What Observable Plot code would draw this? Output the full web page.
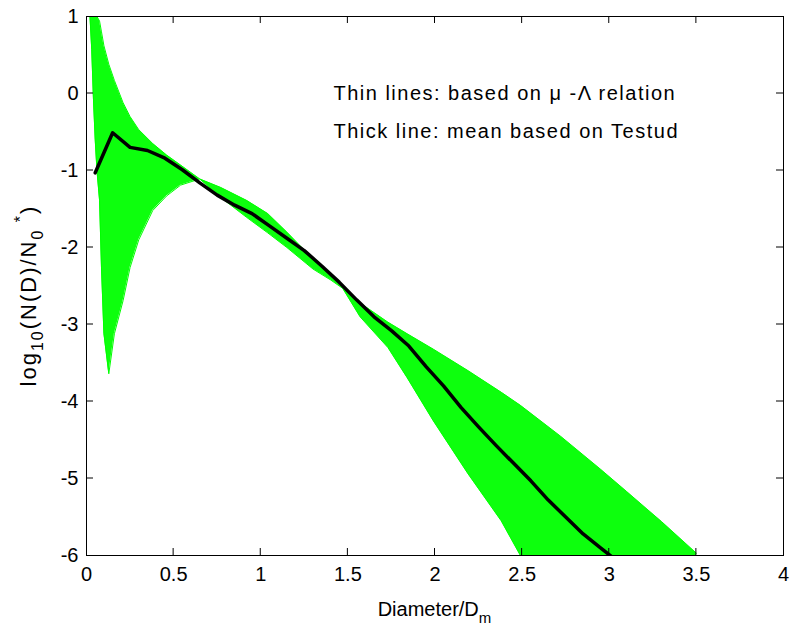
<!DOCTYPE html>
<html><head><meta charset="utf-8">
<script src="https://cdn.jsdelivr.net/npm/d3@7"></script>
<script src="https://cdn.jsdelivr.net/npm/@observablehq/plot@0.6"></script>
<style>body{margin:0;background:#fff;} .note text{letter-spacing:1.5px;}</style>
</head><body><div id="chart"></div>
<script>
// Outline of the family of thin lines (mu-Lambda relation)
const fanX =     [0.02, 0.03, 0.04, 0.05, 0.06, 0.075, 0.086, 0.10, 0.128, 0.16, 0.21, 0.25, 0.30, 0.38, 0.46, 0.54, 0.65, 0.77, 0.92, 1.04, 1.15, 1.30, 1.40, 1.47, 1.57, 1.73, 1.84, 1.99, 2.19, 2.38, 2.49, 2.72, 2.95, 3.10, 3.30, 3.50];
const fanLower = [1.0, 0.57, -0.08, -0.6, -1.0, -1.39, -2.26, -3.12, -3.64, -3.12, -2.69, -2.26, -1.9, -1.52, -1.33, -1.19, -1.11, -1.22, -1.39, -1.56, -1.80, -2.15, -2.36, -2.53, -2.9, -3.30, -3.69, -4.25, -4.94, -5.55, -6.0, -6, -6, -6, -6, -6];
const fanUpper = [1, 1, 1, 1, 1, 0.94, 0.8, 0.62, 0.38, 0.17, -0.12, -0.3, -0.47, -0.65, -0.80, -0.93, -1.11, -1.35, -1.61, -1.81, -2.0, -2.28, -2.42, -2.53, -2.72, -2.97, -3.12, -3.32, -3.60, -3.88, -4.05, -4.45, -4.88, -5.17, -5.56, -5.97];
// Thick line: mean based on Testud
const meanX = [0.05,0.15,0.25,0.35,0.45,0.55,0.65,0.75,0.85,0.95,1.05,1.15,1.25,1.35,1.45,1.55,1.65,1.75,1.85,1.95,2.05,2.15,2.25,2.35,2.45,2.55,2.65,2.75,2.85,2.95,3.05];
const meanY = [-1.03,-0.51,-0.70,-0.74,-0.84,-0.99,-1.16,-1.32,-1.45,-1.56,-1.72,-1.88,-2.04,-2.24,-2.45,-2.68,-2.90,-3.08,-3.28,-3.55,-3.80,-4.08,-4.33,-4.57,-4.80,-5.03,-5.28,-5.50,-5.72,-5.90,-6.08];
const xTicks = [0, 0.5, 1, 1.5, 2, 2.5, 3, 3.5, 4];
const yTicks = [1, 0, -1, -2, -3, -4, -5, -6];
const notes = ["Thin lines: based on \u03bc -\u039b relation", "Thick line: mean based on Testud"];

(function () {
const fan = fanX.map((x, i) => ({x, lo: fanLower[i], hi: fanUpper[i]}));
const mean = meanX.map((x, i) => ({x, y: meanY[i]}));
const FONT = "'Liberation Sans', Arial, Helvetica, sans-serif";

const chart = Plot.plot({
  width: 790, height: 632,
  marginLeft: 86, marginRight: 7, marginTop: 16, marginBottom: 77,
  style: {fontFamily: FONT, fontSize: "20px", background: "#fff", color: "#000", overflow: "visible"},
  x: {domain: [0, 4], label: null},
  y: {domain: [-6, 1], label: null},
  marks: [
    Plot.areaY(fan, {x: "x", y1: "lo", y2: "hi", fill: "#00ff00", fillOpacity: 0.95, clip: true}),
    Plot.lineY(fan, {x: "x", y: "lo", stroke: "#00ff00", strokeWidth: 1, clip: true}),
    Plot.lineY(fan, {x: "x", y: "hi", stroke: "#00ff00", strokeWidth: 1, clip: true}),
    Plot.lineY(mean, {x: "x", y: "y", stroke: "#000", strokeWidth: 3.5, strokeLinejoin: "round", clip: true}),
    Plot.frame({stroke: "#000", strokeWidth: 1}),
    Plot.axisX(xTicks, {anchor: "bottom", tickSize: 0, tickPadding: 11, tickFormat: d => String(d), fontSize: 20}),
    Plot.axisY(yTicks, {anchor: "left", tickSize: 0, tickPadding: 8, tickFormat: d => String(d), fontSize: 20}),
    Plot.text([notes[0]], {x: 1.417, y: 0.0, text: d => d, textAnchor: "start", fontSize: 20, className: "note"}),
    Plot.text([notes[1]], {x: 1.417, y: -0.5, text: d => d, textAnchor: "start", fontSize: 20, className: "note"})
  ]
});
document.getElementById("chart").appendChild(chart);

// inward ticks on all four sides, placed with the plot's scales
const sx = chart.scale("x"), sy = chart.scale("y");
const svg = d3.select(chart);
svg.selectAll(".note text").attr("letter-spacing", "1.5px");
const g = svg.append("g").attr("stroke", "#000").attr("stroke-width", 1);
const yTop = sy.apply(1), yBot = sy.apply(-6), xLeft = sx.apply(0), xRight = sx.apply(4);
const TL = 7;
xTicks.slice(1, -1).forEach(v => {
  const px = sx.apply(v);
  g.append("line").attr("x1", px).attr("x2", px).attr("y1", yBot).attr("y2", yBot - TL);
  g.append("line").attr("x1", px).attr("x2", px).attr("y1", yTop).attr("y2", yTop + TL);
});
yTicks.slice(1, -1).forEach(v => {
  const py = sy.apply(v);
  g.append("line").attr("y1", py).attr("y2", py).attr("x1", xLeft).attr("x2", xLeft + TL);
  g.append("line").attr("y1", py).attr("y2", py).attr("x1", xRight).attr("x2", xRight - TL);
});

// axis labels with sub/superscripts
const xl = svg.append("text").attr("x", (xLeft + xRight) / 2).attr("y", 616)
  .attr("text-anchor", "middle").attr("font-family", FONT).attr("font-size", 20).attr("fill", "#000");
xl.append("tspan").text("Diameter/D");
xl.append("tspan").attr("dy", 7).attr("font-size", 15).text("m");

const yl = svg.append("text").attr("transform", `translate(36,${(yTop + yBot) / 2 + 10}) rotate(-90)`)
  .attr("text-anchor", "middle").attr("font-family", FONT).attr("font-size", 22)
  .attr("letter-spacing", "2px").attr("fill", "#000");
yl.append("tspan").text("log");
yl.append("tspan").attr("dy", 7).attr("font-size", 16).text("10");
yl.append("tspan").attr("dy", -7).text("(N(D)/N");
yl.append("tspan").attr("dy", 7).attr("font-size", 16).text("0");
yl.append("tspan").attr("dy", -17).attr("font-size", 16).text(" *");
yl.append("tspan").attr("dy", 10).text(")");
})();
</script>
</body></html>
